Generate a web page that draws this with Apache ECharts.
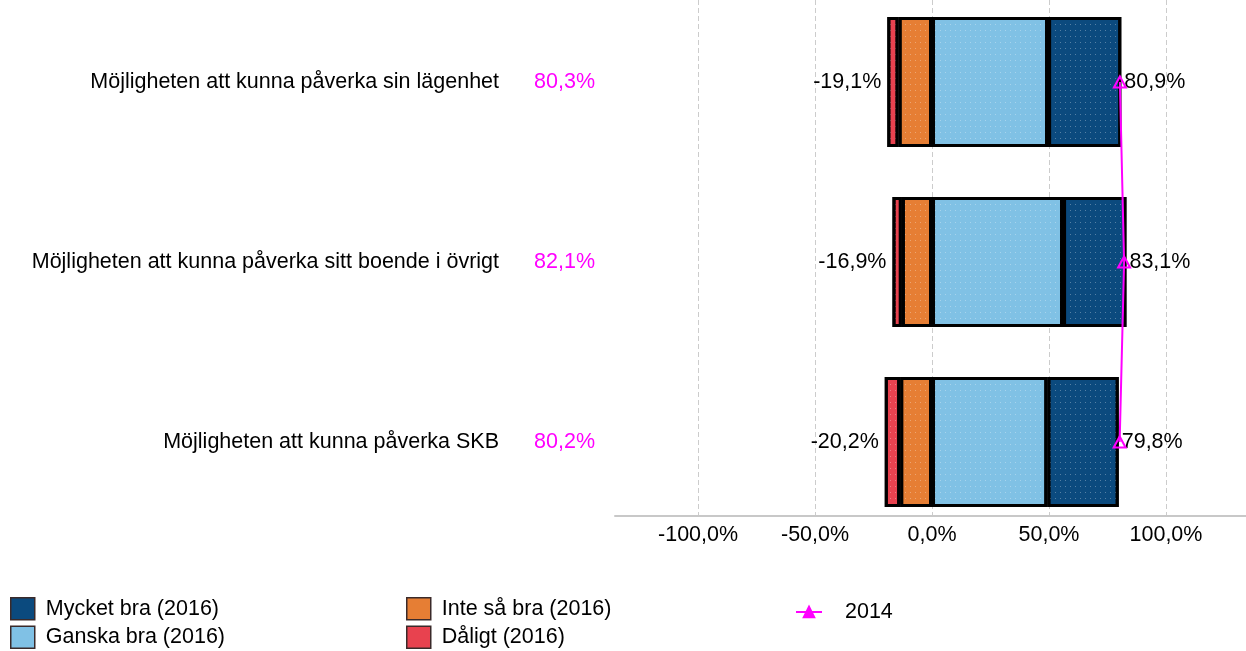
<!DOCTYPE html>
<html>
<head>
<meta charset="utf-8">
<script src="https://cdn.jsdelivr.net/npm/echarts@6/dist/echarts.min.js"></script>
<style>
  html, body { margin: 0; padding: 0; background: #fff; }
  #chart { width: 1246px; height: 651px; }
</style>
</head>
<body>
<div id="chart"></div>
<script>
// data
const categories = [
  'Möjligheten att kunna påverka sin lägenhet',
  'Möjligheten att kunna påverka sitt boende i övrigt',
  'Möjligheten att kunna påverka SKB'
];
const mycketBra = [31.3, 27.1, 30.5];
const ganskaBra = [49.6, 56.0, 49.3];
const inteSaBra = [-14.3, -12.9, -13.6];
const daligt = [-4.8, -4.0, -6.6];
const year2014 = [80.3, 82.1, 80.2];

const font = '"Liberation Sans", Arial, sans-serif';
const fs = 21.5;
const pct = v => v.toFixed(1).replace('.', ',') + '%';
const xMin = -135.5, xMax = 134.2;

const decal = {
  symbol: 'rect',
  symbolSize: 1,
  dashArrayX: [1, 4],
  dashArrayY: [1, 5],
  color: 'rgba(255,255,255,0.3)'
};

function barSeries (name, data, color, extra) {
  return Object.assign({
    name: name,
    type: 'bar',
    stack: 'tot',
    xAxisIndex: 0,
    yAxisIndex: 0,
    barWidth: 130,
    data: data,
    itemStyle: { color: color, borderColor: '#000', borderWidth: 3, decal: decal }
  }, extra || {});
}

const legendText = { fontSize: fs, color: '#000', fontFamily: font, padding: [0, 0, 0, 6] };

const chart = echarts.init(document.getElementById('chart'));
chart.setOption({
  animation: false,
  textStyle: { fontFamily: font },
  grid: [
    { left: 615, right: 0, top: -8, height: 540, outerBoundsMode: 'none' },
    { left: 615, right: 0, top: 0, height: 516, outerBoundsMode: 'none' }
  ],
  xAxis: [
    { type: 'value', gridIndex: 0, min: xMin, max: xMax, show: false },
    {
      type: 'value', gridIndex: 1, min: xMin, max: xMax,
      axisLine: { show: true, lineStyle: { color: '#c8c8c8', width: 2 } },
      axisTick: { show: false },
      splitLine: {
        show: true, showMinLine: false, showMaxLine: false,
        lineStyle: { color: '#cccccc', type: [5, 3], width: 1 }
      },
      axisLabel: {
        showMinLabel: false, showMaxLabel: false,
        margin: 8, fontSize: fs, color: '#000', fontFamily: font,
        formatter: v => pct(v)
      }
    }
  ],
  yAxis: [
    {
      type: 'category', gridIndex: 0, inverse: true, data: categories,
      axisLine: { show: false }, axisTick: { show: false },
      axisLabel: {
        margin: 20,
        formatter: (name, i) => '{a|' + name + '}{b|' + pct(year2014[i]) + '}',
        rich: {
          a: { fontSize: fs, color: '#000', fontFamily: font },
          b: { fontSize: fs, color: '#ff00ff', fontFamily: font, padding: [0, 0, 0, 35] }
        }
      }
    },
    { type: 'value', gridIndex: 1, min: 0, max: 1, show: false }
  ],
  legend: [
    {
      left: 10, top: 597, orient: 'vertical', itemGap: 5, padding: 0,
      itemWidth: 24, itemHeight: 22, icon: 'rect',
      itemStyle: { borderColor: '#3a2a2a', borderWidth: 1.5, decal: 'none' },
      textStyle: legendText,
      data: ['Mycket bra (2016)', 'Ganska bra (2016)']
    },
    {
      left: 406, top: 597, orient: 'vertical', itemGap: 5, padding: 0,
      itemWidth: 24, itemHeight: 22, icon: 'rect',
      itemStyle: { borderColor: '#3a2a2a', borderWidth: 1.5, decal: 'none' },
      textStyle: legendText,
      data: ['Inte så bra (2016)', 'Dåligt (2016)']
    },
    {
      left: 795, top: 601, padding: 0, itemWidth: 26, itemHeight: 13,
      textStyle: { fontSize: fs, color: '#000', fontFamily: font, padding: [0, 0, 0, 18] },
      data: [{ name: '2014', itemStyle: { color: '#ff00ff', borderColor: '#ff00ff' } }]
    }
  ],
  series: [
    barSeries('Ganska bra (2016)', ganskaBra, '#80c1e5'),
    barSeries('Mycket bra (2016)', mycketBra, '#0b4a7e', {
      label: {
        show: true, position: 'right', distance: 3,
        fontSize: fs, color: '#000', fontFamily: font,
        formatter: p => pct(mycketBra[p.dataIndex] + ganskaBra[p.dataIndex])
      }
    }),
    barSeries('Inte så bra (2016)', inteSaBra, '#e67e34'),
    barSeries('Dåligt (2016)', daligt, '#e8424f', {
      label: {
        show: true, position: 'left', distance: 6,
        fontSize: fs, color: '#000', fontFamily: font,
        formatter: p => pct(inteSaBra[p.dataIndex] + daligt[p.dataIndex])
      }
    }),
    {
      name: '2014',
      type: 'line',
      xAxisIndex: 0,
      yAxisIndex: 0,
      data: year2014,
      z: 5,
      symbol: 'triangle',
      symbolSize: [12, 11],
      lineStyle: { color: '#ff00ff', width: 2 },
      itemStyle: { color: 'rgba(255,255,255,0)', borderColor: '#ff00ff', borderWidth: 2 }
    }
  ]
});
</script>
</body>
</html>
